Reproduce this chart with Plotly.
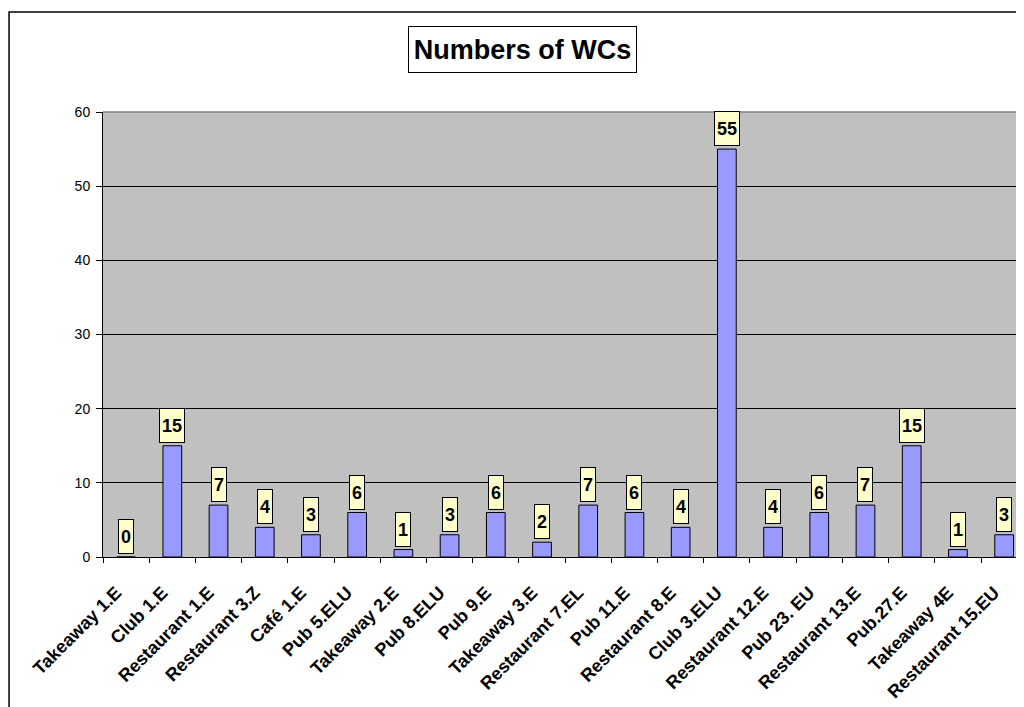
import plotly.graph_objects as go

venues = ['Takeaway 1.E', 'Club 1.E', 'Restaurant 1.E', 'Restaurant 3.Z', 'Café 1.E',
          'Pub 5.ELU', 'Takeaway 2.E', 'Pub 8.ELU', 'Pub 9.E', 'Takeaway 3.E',
          'Restaurant 7.EL', 'Pub 11.E', 'Restaurant 8.E', 'Club 3.ELU', 'Restaurant 12.E',
          'Pub 23. EU', 'Restaurant 13.E', 'Pub.27.E', 'Takeaway 4E', 'Restaurant 15.EU']
wc_counts = [0, 15, 7, 4, 3, 6, 1, 3, 6, 2, 7, 6, 4, 55, 4, 6, 7, 15, 1, 3]
y_ticks = [0, 10, 20, 30, 40, 50, 60]
chart_title = 'Numbers of WCs'

FONT = 'Arial, Liberation Sans, sans-serif'

fig = go.Figure()

fig.add_trace(go.Bar(
    x=venues,
    y=wc_counts,
    marker=dict(color='#9999FF', line=dict(color='black', width=1)),
    hoverinfo='x+y',
))

# yellow value boxes above each bar
label_boxes = [dict(
    x=name, y=val, xref='x', yref='y',
    text=f'<b>{val}</b>', showarrow=False,
    yanchor='bottom', yshift=3,
    font=dict(family=FONT, size=18, color='black'),
    bgcolor='#FFFFCC', bordercolor='black', borderwidth=1, borderpad=2,
    height=29,
) for name, val in zip(venues, wc_counts)]

title_box = dict(
    x=0.4555, y=1.1404, xref='paper', yref='paper',
    text=f'<b>{chart_title}</b>', showarrow=False,
    xanchor='center', yanchor='middle',
    font=dict(family=FONT, size=27, color='black'),
    bgcolor='white', bordercolor='black', borderwidth=1, borderpad=2,
    height=41, width=223,
)

# page body has an 8px margin, so the figure is shrunk by that much
fig.update_layout(
    width=1016, height=699,
    margin=dict(l=95, r=0, t=104, b=150),
    paper_bgcolor='white',
    plot_bgcolor='#C0C0C0',
    showlegend=False,
    bargap=0.595,
    font=dict(family=FONT, color='black'),
    annotations=label_boxes + [title_box],
    shapes=[
        # outer chart frame (cut off on the right and bottom like the source)
        dict(type='rect', xref='paper', yref='paper', x0=-0.1020, x1=1.02, y0=-0.36, y1=1.2247,
             line=dict(color='black', width=1.5), layer='below'),
        # grey plot-area top border
        dict(type='line', xref='paper', yref='paper', x0=0, x1=1, y0=1, y1=1,
             line=dict(color='#808080', width=1.5), layer='above'),
    ],
    xaxis=dict(
        range=[-0.5, 19.43],
        automargin=False,
        tickangle=-45,
        tickfont=dict(family=FONT, size=18, color='black', weight='bold'),
        ticks='outside', tickson='boundaries', ticklen=5, tickcolor='black',
        ticklabelstandoff=17, ticklabelshift=-10,
        showline=True, linecolor='black', linewidth=1,
        showgrid=False, zeroline=False,
    ),
    yaxis=dict(
        range=[0, 60],
        automargin=False,
        tickvals=y_ticks,
        tickfont=dict(family=FONT, size=14, color='black'),
        ticks='outside', ticklen=6, tickcolor='black',
        ticklabelstandoff=3,
        showline=True, linecolor='black', linewidth=1,
        showgrid=True, gridcolor='black', gridwidth=1,
        zeroline=False,
    ),
)

fig.write_html('out.html')
